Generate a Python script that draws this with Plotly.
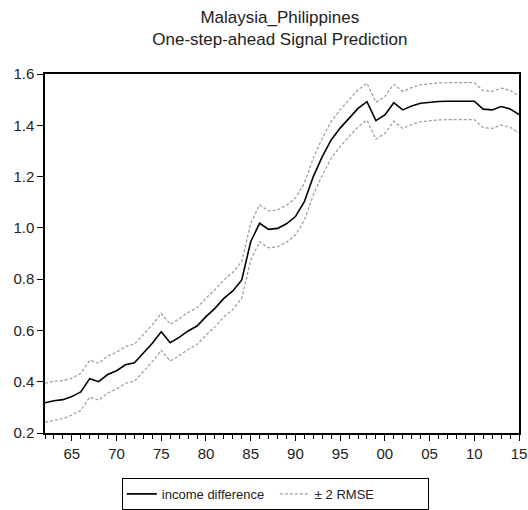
import plotly.graph_objects as go

# Annual observations, 1962-2015
years = list(range(1962, 2016))

# One-step-ahead predicted signal (income difference)
signal = [
    0.318, 0.326, 0.330, 0.342, 0.360, 0.412, 0.400, 0.428, 0.443, 0.466,
    0.474, 0.511, 0.550, 0.595, 0.552, 0.573, 0.598, 0.617, 0.654, 0.686,
    0.725, 0.754, 0.797, 0.946, 1.018, 0.994, 0.998, 1.016, 1.044, 1.102,
    1.200, 1.278, 1.343, 1.389, 1.427, 1.466, 1.492, 1.418, 1.440, 1.488,
    1.460, 1.475, 1.486, 1.490, 1.493, 1.494, 1.494, 1.494, 1.494, 1.463,
    1.460, 1.473, 1.464, 1.442,
]

# Root mean squared error of the prediction
rmse = [0.038, 0.038, 0.037] + [0.036] * (len(years) - 3)

upper = [s + 2 * r for s, r in zip(signal, rmse)]
lower = [s - 2 * r for s, r in zip(signal, rmse)]

tick_years = list(range(1965, 2016, 5))
tick_labels = [f"{y % 100:02d}" for y in tick_years]

band_style = dict(color="#9a9a9a", width=1.2, dash="3px,2px")

fig = go.Figure()
fig.add_trace(go.Scatter(
    x=years, y=signal, mode="lines", name="income difference",
    line=dict(color="black", width=1.6),
))
fig.add_trace(go.Scatter(
    x=years, y=upper, mode="lines", name="± 2 RMSE",
    line=band_style, legendgroup="band",
))
fig.add_trace(go.Scatter(
    x=years, y=lower, mode="lines", name="± 2 RMSE",
    line=band_style, legendgroup="band", showlegend=False,
))

fig.update_layout(
    width=528, height=510,
    margin=dict(l=45, r=9, t=74, b=77, autoexpand=False),
    paper_bgcolor="white", plot_bgcolor="white",
    font=dict(family="Liberation Sans, Arial, sans-serif", size=15, color="#222"),
    title=dict(
        text="Malaysia_Philippines<br>One-step-ahead Signal Prediction",
        x=0.53, xanchor="center", y=0.955, yanchor="top",
        font=dict(size=17, color="#222"),
    ),
    showlegend=True,
    legend=dict(
        orientation="h", x=0.486, xanchor="center", y=-0.125, yanchor="top",
        bordercolor="black", borderwidth=1, bgcolor="white",
        font=dict(size=13), tracegroupgap=0,
        entrywidth=108, entrywidthmode="pixels",
    ),
)

fig.update_xaxes(
    range=[1962, 2015], tickvals=tick_years, ticktext=tick_labels,
    ticks="outside", ticklen=6, tickwidth=1.2, tickcolor="black",
    minor=dict(dtick=1, ticks="outside", ticklen=4, tickwidth=1, tickcolor="black"),
    showline=True, linecolor="black", linewidth=1.5, mirror=True,
    showgrid=False, zeroline=False,
)
fig.update_yaxes(
    range=[0.2, 1.6], dtick=0.2, tick0=0.2, tickformat=".1f",
    ticks="outside", ticklen=6, tickwidth=1.2, tickcolor="black",
    showline=True, linecolor="black", linewidth=1.5, mirror=True,
    showgrid=False, zeroline=False,
)

fig.write_html("out.html")
